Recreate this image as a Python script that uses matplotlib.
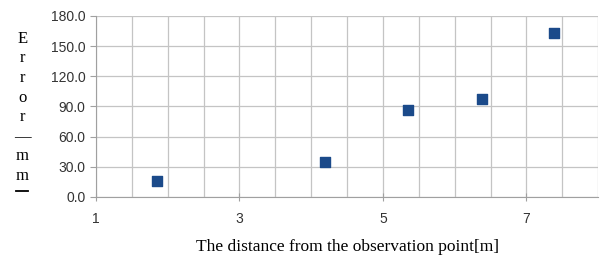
import numpy as np
import matplotlib.pyplot as plt
from matplotlib.lines import Line2D

# data
distance = [1.85, 4.19, 5.35, 6.38, 7.38]
error = [15.7, 35.0, 86.7, 97.7, 162.7]
xticks = [1, 3, 5, 7]
yticks = [0, 30, 60, 90, 120, 150, 180]

fig = plt.figure(figsize=(6, 2.62), dpi=100)
ax = fig.add_axes([0.16, 0.249, 0.837, 0.69])

ax.scatter(distance, error, marker='s', s=55, color='#1b4a8a', zorder=3)

ax.set_xlim(1, 8)
ax.set_ylim(0, 180)
ax.set_xticks(xticks)
ax.set_xticks(np.arange(1, 8.01, 0.5), minor=True)
ax.set_yticks(yticks)
ax.set_yticklabels(['%.1f' % v for v in yticks])
ax.grid(True, which='both', color='#c4c4c4', linewidth=0.9)
ax.set_axisbelow(True)

for s in ['top', 'right']:
    ax.spines[s].set_visible(False)
for s in ['left', 'bottom']:
    ax.spines[s].set_color('#a0a0a0')
ax.tick_params(axis='x', which='major', direction='inout', length=6, color='#a0a0a0',
               labelsize=10, pad=8, labelcolor='#333333')
ax.tick_params(axis='x', which='minor', length=0)
ax.tick_params(axis='y', direction='out', length=4, color='#a0a0a0',
               labelsize=10, labelcolor='#333333')
for lab in ax.get_xticklabels() + ax.get_yticklabels():
    lab.set_family('Liberation Sans')

ax.set_xlabel('The distance from the observation point[m]', family='Liberation Serif',
              fontsize=12.5, labelpad=9)

# stacked vertical y label
fig.text(0.037, 0.59, 'E\nr\nr\no\nr\n\u2014\nm\nm', family='Liberation Serif',
         fontsize=12, ha='center', va='center', linespacing=1.3)
fig.add_artist(Line2D([0.026, 0.047], [0.272, 0.272], color='black', linewidth=1.3))

fig.savefig('out.png', dpi=100)
